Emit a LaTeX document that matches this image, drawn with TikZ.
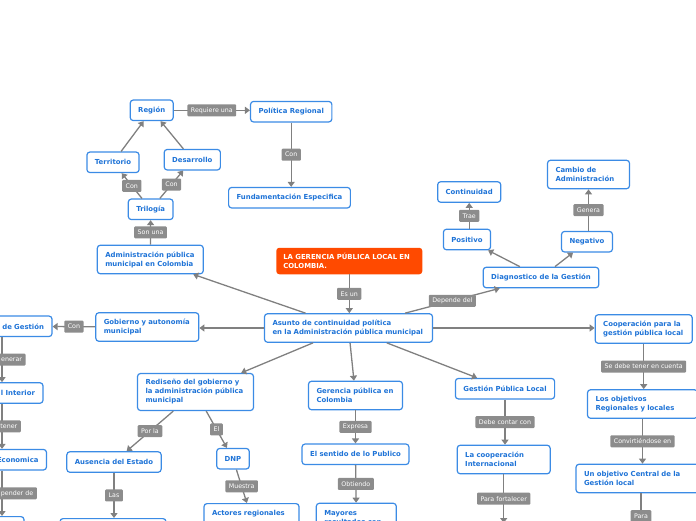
\documentclass[tikz,border=0pt]{standalone}
\usepackage{fontspec}
\setmainfont{DejaVu Sans}
\usetikzlibrary{arrows.meta}
\definecolor{nodeblue}{HTML}{3B8BE5}
\definecolor{textblue}{HTML}{1E73D7}
\definecolor{conngray}{HTML}{808080}
\definecolor{lblgray}{HTML}{8C8C8C}
\definecolor{orangered}{HTML}{FF4A00}
\begin{document}
\begin{tikzpicture}[x=1pt,y=-1pt,
  box/.style={draw=nodeblue, line width=1.2pt, fill=white, rounded corners=3pt,
    text=textblue, font=\fontsize{6.9}{9}\selectfont\bfseries,
    inner xsep=8pt, inner ysep=2pt, minimum height=20.5pt},
  two/.style={align=left, minimum height=28.5pt},
  three/.style={align=left, minimum height=37pt},
  rbox/.style={align=right},
  orangebox/.style={fill=orangered, rounded corners=3pt, text=white,
    font=\fontsize{6.9}{9}\selectfont\bfseries, inner xsep=7pt, inner ysep=2pt,
    align=left, minimum height=26.5pt},
  lbl/.style={fill=lblgray, text=white, font=\fontsize{6.3}{8}\selectfont,
    inner xsep=3.5pt, inner ysep=0pt, minimum height=12pt, rounded corners=1pt},
  arr/.style={draw=conngray, line width=1.3pt, -{Triangle[length=5pt,width=7pt]}}]
\path[use as bounding box] (0,0) rectangle (696,520);
\clip (0,0) rectangle (696,520);

% top-left cluster
\node[box] (region) at (151.7,110.3) {Región};
\node[box] (polreg) at (291.2,111.7) {Política Regional};
\node[box] (territorio) at (113,162.3) {Territorio};
\node[box] (desarrollo) at (192.3,159.7) {Desarrollo};
\node[box] (trilogia) at (150.7,209.3) {Trilogía};
\node[box] (fundam) at (289.5,197.7) {Fundamentación Especifica};
\node[box,two,text width=90pt] (admin) at (150.3,259.5) {Administración pública\\municipal en Colombia};
\node[orangebox,text width=132pt] (orange) at (349.3,261) {LA GERENCIA PÚBLICA LOCAL EN\\COLOMBIA.};

% top-right cluster
\node[box] (continuidad) at (469.2,192) {Continuidad};
\node[box,two,text width=66pt] (cambio) at (588.5,174.5) {Cambio de\\Administración};
\node[box] (positivo) at (467,239.5) {Positivo};
\node[box] (negativo) at (587,241.7) {Negativo};
\node[box] (diag) at (541,277.5) {Diagnostico de la Gestión};

% middle row
\node[box,two,text width=152pt] (asunto) at (348.5,328) {Asunto de continuidad política\\en la Administración pública municipal};
\node[box,two,text width=87pt] (gobierno) at (147.3,327) {Gobierno y autonomía\\municipal};
\node[box,rbox,text width=84pt] (degestion) at (2,326.3) {de Gestión};
\node[box,two,text width=81pt] (coopgest) at (643.7,329) {Cooperación para la\\gestión pública local};

% left column
\node[box,rbox,text width=66pt] (interior) at (2,393) {l Interior};
\node[box,rbox,text width=73pt] (economica) at (2,459.7) {Economica};
\node[box,anchor=north,minimum width=44pt,minimum height=30pt] (bottomleft) at (2,516) {};

% lower middle
\node[box,three,text width=100pt] (rediseno) at (195.5,392) {Rediseño del gobierno y\\la administración pública\\municipal};
\node[box] (ausencia) at (114,462) {Ausencia del Estado};
\node[box] (dnp) at (233,458.7) {DNP};
\node[box,two,anchor=north,text width=79pt] (actores) at (251.5,503) {Actores regionales\\ \mbox{}};
\node[box,anchor=north,minimum width=106pt,minimum height=30pt] (bottomaus) at (113,518) {};
\node[box,two,text width=78pt] (gerpub) at (355.5,395.5) {Gerencia pública en\\Colombia};
\node[box] (sentido) at (355.5,454.3) {El sentido de lo Publico};
\node[box,two,anchor=north,text width=64pt] (mayores) at (356.3,502.7) {Mayores\\resultados con};
\node[box] (gpl) at (505,388.7) {Gestión Pública Local};
\node[box,two,text width=77pt] (coopint) at (503.7,459.5) {La cooperación\\Internacional};
\node[box,two,text width=94pt] (objetivos) at (642.5,404) {Los objetivos\\Regionales y locales};
\node[box,two,text width=108pt] (central) at (638,478.5) {Un objetivo Central de la\\Gestión local};
\coordinate (below1) at (503.7,523);
\coordinate (below2) at (641,539);

% connectors
\draw[arr] (region) -- node[lbl,midway] (l1) {Requiere una} (region -| polreg.west);
\draw[arr] (polreg) -- node[lbl,midway] (l2) {Con} (polreg |- fundam.north);
\draw[arr] (territorio) -- (region);
\draw[arr] (desarrollo) -- (region);
\draw[arr] (trilogia) -- node[lbl,midway] (l3) {Con} (territorio);
\draw[arr] (trilogia) -- node[lbl,midway] (l4) {Con} (desarrollo);
\draw[arr] (admin) -- node[lbl,midway] (l5) {Son una} (trilogia);
\draw[arr] (orange) -- node[lbl,midway] (l6) {Es un} (orange |- asunto.north);
\draw[arr] (asunto) -- (admin);
\draw[arr] (asunto) -- node[lbl,midway] (l7) {Depende del} (diag);
\draw[arr] (diag) -- (positivo);
\draw[arr] (diag) -- (negativo);
\draw[arr] (continuidad |- positivo.north) -- node[lbl,midway] (l8) {Trae} (continuidad);
\draw[arr] (cambio |- negativo.north) -- node[lbl,midway] (l9) {Genera} (cambio);
\draw[arr] (asunto) -- (asunto -| gobierno.east);
\draw[arr] (gobierno) -- node[lbl,midway] (l10) {Con} (degestion);
\draw[arr] (asunto) -- (asunto -| coopgest.west);
\draw[arr] (asunto) -- (rediseno);
\draw[arr] (asunto) -- (gerpub);
\draw[arr] (asunto) -- (gpl);
\draw[arr] (rediseno) -- node[lbl,midway] (l11) {Por la} (ausencia);
\draw[arr] (rediseno) -- node[lbl,midway] (l12) {El} (dnp);
\draw[arr] (dnp) -- node[lbl,midway] (l13) {Muestra} (actores);
\draw[arr] (ausencia) -- node[lbl,midway] (l14) {Las} (ausencia |- bottomaus.north);
\draw[arr] (gerpub) -- node[lbl,midway] (l15) {Expresa} (sentido);
\draw[arr] (sentido) -- node[lbl,midway] (l16) {Obtiendo} (mayores);
\draw[arr] (gpl) -- node[lbl,midway] (l17) {Debe contar con} (gpl |- coopint.north);
\draw[arr] (coopint) -- node[lbl,midway] (l18) {Para fortalecer} (below1);
\draw[arr] (coopgest) -- node[lbl,midway] (l19) {Se debe tener en cuenta} (coopgest |- objetivos.north);
\draw[arr] (objetivos) -- node[lbl,midway] (l20) {Convirtiéndose en} (objetivos |- central.north);
\draw[arr] (central.south -| below2) -- node[lbl,midway] (l21) {Para} (below2);
\draw[arr] (degestion) -- node[lbl,midway,text width=40pt,align=right] (l22) {enerar} (interior);
\draw[arr] (interior) -- node[lbl,midway,text width=30.6pt,align=right] (l23) {tener} (economica);
\draw[arr] (economica) -- node[lbl,midway,text width=62.6pt,align=right] (l24) {pender de} (bottomleft);
\end{tikzpicture}
\end{document}
